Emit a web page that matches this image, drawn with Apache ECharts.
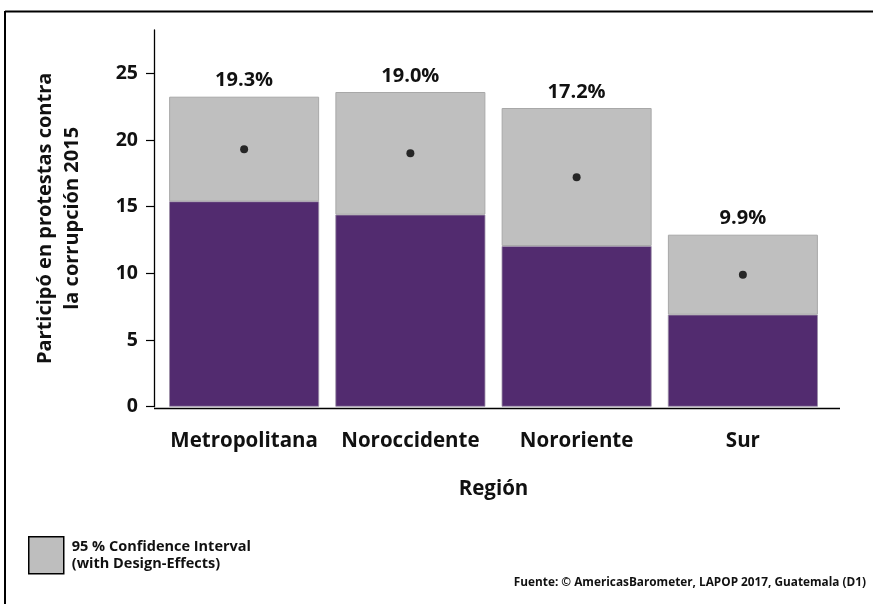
<!DOCTYPE html>
<html>
<head>
<meta charset="utf-8">
<script src="https://cdn.jsdelivr.net/npm/echarts@6/dist/echarts.min.js"></script>
<style>
html,body{margin:0;padding:0;background:#fff;}
#chart{width:873px;height:604px;}
</style>
</head>
<body>
<div id="chart"></div>
<script>
const regions = ['Metropolitana', 'Noroccidente', 'Nororiente', 'Sur'];
const means = [19.3, 19.0, 17.2, 9.9];
const ciLower = [15.4, 14.4, 12.05, 6.9];
const ciUpper = [23.25, 23.6, 22.4, 12.9];
const yTicks = [0, 5, 10, 15, 20, 25];

const ciSpan = ciUpper.map((u, i) => +(u - ciLower[i]).toFixed(3));
const FONT = '"Open Sans", "Noto Sans", sans-serif';

const chart = echarts.init(document.getElementById('chart'), null, {renderer: 'canvas'});
chart.setOption({
  animation: false,
  backgroundColor: '#fff',
  textStyle: {fontFamily: FONT},
  grid: {left: 161, right: 47, top: 30, bottom: 197.3, containLabel: false},
  xAxis: {
    type: 'category',
    data: regions,
    axisLine: {show: false},
    axisTick: {show: false},
    axisLabel: {color: '#111', fontSize: 20.5, fontWeight: 'bold', margin: 24, fontFamily: FONT, interval: 0, hideOverlap: false},
    name: 'Región',
    nameLocation: 'middle',
    nameGap: 72,
    nameTextStyle: {color: '#111', fontSize: 20.5, fontWeight: 'bold', fontFamily: FONT}
  },
  yAxis: {
    type: 'value',
    min: 0,
    max: 28.25,
    interval: 5,
    offset: 7,
    splitLine: {show: false},
    axisLine: {show: true, lineStyle: {color: '#000', width: 1.3}},
    axisTick: {show: true, length: 8, lineStyle: {color: '#000', width: 1.2}, customValues: yTicks},
    axisLabel: {color: '#111', fontSize: 19.5, fontWeight: 'bold', margin: 16, fontFamily: FONT, customValues: yTicks},
    name: 'Participó en protestas contra\nla corrupción 2015',
    nameLocation: 'middle',
    nameGap: 68,
    nameTextStyle: {color: '#111', fontSize: 20, fontWeight: 'bold', lineHeight: 27, fontFamily: FONT}
  },
  legend: {
    left: 23,
    top: 531,
    itemWidth: 35,
    itemHeight: 37,
    data: [{name: 'ci', icon: 'rect', itemStyle: {color: '#bebebe', borderColor: '#000', borderWidth: 1.5}}],
    formatter: () => '95 % Confidence Interval\n(with Design-Effects)',
    textStyle: {color: '#111', fontSize: 14.5, fontWeight: 'bold', lineHeight: 17, fontFamily: FONT, padding: [0, 0, 0, 3]},
    selectedMode: false
  },
  series: [
    {
      name: 'lower',
      type: 'bar',
      stack: 'ci',
      barWidth: 150,
      data: ciLower,
      itemStyle: {color: '#522b6f', borderColor: '#9a8ea6', borderWidth: 0.8},
      silent: true
    },
    {
      name: 'ci',
      type: 'bar',
      stack: 'ci',
      barWidth: 150,
      data: ciSpan,
      itemStyle: {color: '#bfbfbf', borderColor: '#a8a8a8', borderWidth: 1},
      label: {
        show: true,
        position: 'top',
        distance: 6,
        color: '#111',
        fontSize: 20,
        fontWeight: 'bold',
        fontFamily: FONT,
        formatter: p => means[p.dataIndex].toFixed(1) + '%'
      },
      silent: true
    },
    {
      name: 'mean',
      type: 'scatter',
      data: means,
      symbol: 'circle',
      symbolSize: 8,
      itemStyle: {color: '#000'},
      z: 5,
      silent: true
    }
  ],
  graphic: [
    {type: 'line', shape: {x1: 5, y1: 11.5, x2: 873, y2: 11.5}, style: {stroke: '#000', lineWidth: 2}},
    {type: 'line', shape: {x1: 5, y1: 11, x2: 5, y2: 604}, style: {stroke: '#000', lineWidth: 2}},
    {type: 'line', shape: {x1: 154, y1: 408.5, x2: 840, y2: 408.5}, style: {stroke: '#000', lineWidth: 1.5}},
    {type: 'text', right: 7, top: 577, style: {text: 'Fuente: \u00a9 AmericasBarometer, LAPOP 2017, Guatemala (D1)', fill: '#111', font: 'bold 11.8px "Open Sans", sans-serif'}}
  ]
});
</script>
</body>
</html>
